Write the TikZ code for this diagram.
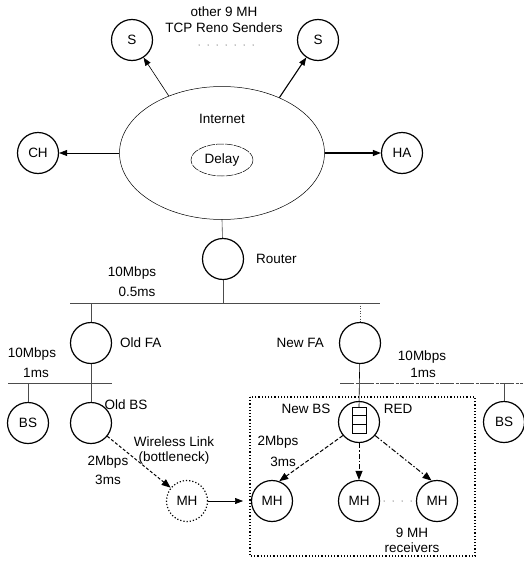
\documentclass[tikz,border=0pt]{standalone}
\usepackage{fontspec}
\setmainfont{Liberation Sans}
\usetikzlibrary{shapes.geometric,arrows.meta}
\begin{document}
\begin{tikzpicture}[x=1pt,y=-1pt,
  every node/.style={font=\fontsize{13.5}{15}\selectfont},
  host/.style={circle,draw,line width=1.2pt,minimum size=41pt,inner sep=0pt},
  dhost/.style={circle,draw,dotted,line width=1.2pt,minimum size=41pt,inner sep=0pt},
  bus/.style={draw=black!70,line width=0.6pt},
  lbl/.style={inner sep=0pt},
  dotrow/.style={line width=1pt,line cap=round,dash pattern=on 0pt off 9pt},
  arr/.style={-{Triangle[length=8pt,width=6pt]},line width=0.6pt},
  tarr/.style={-{Triangle[length=8pt,width=6pt]},line width=1.1pt},
  warr/.style={-{Triangle[length=9pt,width=7pt]},line width=1pt}
]
\useasboundingbox (0,0) rectangle (523,565);
% top
\node[host] (S1) at (132,40) {S};
\node[host] (S2) at (318,40) {S};
\node[lbl] (t1) at (224,12) {other 9 MH};
\node[lbl] (t2) at (224,28) {TCP Reno Senders};
\coordinate (dA) at (199,45);
\coordinate (dB) at (256,45);
\draw[dotrow] (dA) -- (dB);
\node[ellipse,draw,line width=0.5pt,minimum width=205pt,minimum height=133pt,inner sep=0pt] (inet) at (222,153) {};
\node[lbl] (itxt) at (222,119) {Internet};
\node[ellipse,draw,line width=0.5pt,dash pattern=on 8pt off 1pt,minimum width=62pt,minimum height=32pt,inner sep=0pt] (delay) at (222,160) {Delay};
\node[host] (CH) at (38,153) {CH};
\node[host] (HA) at (402,153) {HA};
\draw[arr] (inet.133) -- (S1);
\draw[tarr] (inet.44) -- (S2);
\draw[arr] (inet.west) -- (CH);
\draw[tarr] (inet.east) -- (HA);
% router
\node[host] (R) at (223,259) {};
\node[lbl,anchor=west] (rl) at (256,259) {Router};
\draw[bus] (inet.south) -- (R);
\coordinate (b1L) at (70,303);
\coordinate (b1R) at (380,303);
\draw[bus] (b1L) -- (b1R);
\draw[bus] (R) -- (R|-b1L);
\node[lbl] (l1) at (132,273) {10Mbps};
\node[lbl] (l2) at (137,292) {0.5ms};
% FAs
\node[host] (OFA) at (91,343) {};
\node[lbl,anchor=west] (ofal) at (120,343) {Old FA};
\node[host] (NFA) at (360,343) {};
\node[lbl,anchor=east] (nfal) at (324,343) {New FA};
\draw[bus] (OFA|-b1L) -- (OFA);
\draw[bus,dotted] (NFA|-b1L) -- (NFA);
% old bus
\coordinate (b2L) at (8,383);
\coordinate (b2R) at (112,383);
\draw[bus] (b2L) -- (b2R);
\node[lbl] (l3) at (32,354) {10Mbps};
\node[lbl] (l4) at (36,373) {1ms};
% new bus
\coordinate (b3L) at (340,383);
\coordinate (b3R) at (523,383);
\draw[bus,dash pattern=on 14pt off 1.5pt on 3pt off 1.5pt] (b3L) -- (b3R);
\node[lbl] (l5) at (422,357) {10Mbps};
\node[lbl] (l6) at (423,373) {1ms};
% BSs
\node[host] (BS1) at (28,423) {BS};
\node[host] (OBS) at (91,423) {};
\node[lbl] (obsl) at (126,405) {Old BS};
\node[host] (NBS) at (359,422) {};
\node[host] (BS2) at (504,422) {BS};
\draw[bus] (BS1|-b2L) -- (BS1);
\draw[bus] (OFA) -- (OBS);
\draw[bus] (BS2|-b3L) -- (BS2);
\coordinate (qtop) at (359,407);
\draw[bus,black] (NFA) -- (qtop);
% queue
\draw[line width=1pt] (352,407) rectangle (366,433);
\draw[line width=0.8pt] (352,415) -- (366,415);
\draw[line width=1pt] (352,424) -- (366,424);
\node[lbl] (redl) at (398,409) {RED};
\node[lbl] (nbsl) at (306,409) {New BS};
% box
\draw[dotted,line width=1.2pt] (250,397) rectangle (475,556);
% MHs
\node[dhost] (MHd) at (187,501) {MH};
\node[host] (MH1) at (272,501) {MH};
\node[host] (MH2) at (359,501) {MH};
\node[host] (MH3) at (437,501) {MH};
\coordinate (boxW) at (243,501);
\draw[arr] (MHd) -- (boxW);
\draw[dotrow,shorten <=4pt] (MH2.east) -- (MH3.west);
\node[lbl] (r1) at (412,533) {9 MH};
\node[lbl] (r2) at (412,548) {receivers};
% wireless
\draw[warr,densely dashed] (OBS) -- (MHd);
\node[lbl] (w1) at (174,442) {Wireless Link};
\node[lbl] (w2) at (174,458) {(bottleneck)};
\node[lbl] (w3) at (108,462) {2Mbps};
\node[lbl] (w4) at (108,480) {3ms};
\draw[warr,dash pattern=on 4pt off 2pt] (NBS.220) -- (MH1.70);
\draw[warr,dash pattern=on 5pt off 2pt on 1.5pt off 2pt] (NBS.south) -- (MH2.north);
\draw[warr,dash pattern=on 5pt off 2pt on 1.5pt off 2pt] (NBS.-40) -- (MH3.105);
\node[lbl] (n1) at (278,442) {2Mbps};
\node[lbl] (n2) at (283,462) {3ms};
\end{tikzpicture}
\end{document}
